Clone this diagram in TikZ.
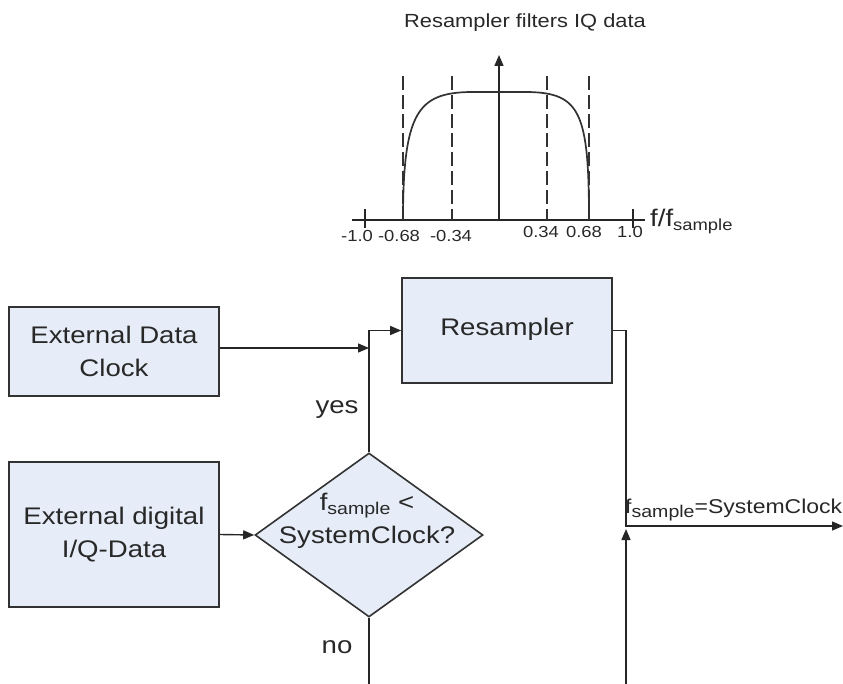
\documentclass[tikz,border=0pt]{standalone}
\usepackage{fontspec}
\setmainfont[FakeStretch=1.15]{Liberation Sans}
\usetikzlibrary{arrows.meta,shapes.geometric}
\definecolor{boxfill}{RGB}{230,237,248}
\definecolor{ink}{RGB}{50,50,50}
\definecolor{txt}{RGB}{40,40,40}
\newcommand{\fsmp}[1]{f\raisebox{-4pt}{\fontsize{#1}{#1}\selectfont sample}}
\begin{document}
\begin{tikzpicture}[x=1pt,y=-1pt,
  box/.style={draw=ink,line width=1.6pt,fill=boxfill,inner sep=0pt,text=txt,align=center,font=\fontsize{24}{33}\selectfont},
  diam/.style={diamond,draw=ink,line width=1.6pt,fill=boxfill,inner sep=0pt,minimum width=228pt,minimum height=164pt},
  lbl/.style={text=txt,inner sep=0pt,font=\fontsize{24}{33}\selectfont},
  conn/.style={draw=black!85,line width=1.4pt},
  arr/.style={conn,-{Triangle[length=11pt,width=9pt]}},
  ticklbl/.style={text=txt,inner sep=0pt,font=\fontsize{16}{16}\selectfont},
  dashline/.style={draw=ink,line width=1.4pt,dash pattern=on 14pt off 5pt},
  ]
\useasboundingbox (0,0) rectangle (843,684);

% ---- filter plot ----
\node[text=txt,inner sep=0pt,font=\fontsize{19}{19}\selectfont] (title) at (525,23) {Resampler filters IQ data};
\coordinate (xa) at (352,220);
\coordinate (xb) at (645,220);
\coordinate (yb) at (499,220);
\coordinate (yt) at (499,55);
\draw[conn] (xa) -- (xb);
\draw[arr] (yb) -- (yt);
\draw[conn] (365,209) -- (365,228);
\draw[conn] (633,209) -- (633,228);
\foreach \x in {403,452,547,589} \draw[dashline] (\x,76) -- (\x,220);
\draw[ink,line width=1.7pt] (403,220) .. controls (403,112) and (418,93) .. (470,92) -- (528,92) .. controls (580,93) and (589,112) .. (589,220);
\node[ticklbl] (t1) at (357,236) {-1.0};
\node[ticklbl] (t2) at (399,236) {-0.68};
\node[ticklbl] (t3) at (451,236) {-0.34};
\node[ticklbl] (t4) at (541,232) {0.34};
\node[ticklbl] (t5) at (584,232) {0.68};
\node[ticklbl] (t6) at (630,232) {1.0};
\node[lbl,anchor=base west] (fl) at (650,227) {f/\fsmp{16}};

% ---- flow chart ----
\node[box,minimum width=210pt,minimum height=89pt] (edc) at (114,351.5) {External Data\\Clock};
\node[box,minimum width=210pt,minimum height=145pt] (iq) at (114,534.5) {External digital\\I/Q-Data};
\node[box,minimum width=210pt,minimum height=105pt] (res) at (507,330.5) {\raisebox{8pt}{Resampler}};
\node[diam] (dec) at (369,535) {};
\node[lbl,align=center] (dectxt) at (367,521) {\fsmp{17}\ {<}\\SystemClock?};

\coordinate (join) at (369,348);
\coordinate (noend) at (369,684);
\coordinate (c1) at (626,526);
\coordinate (out) at (843,526);
\coordinate (inb) at (626,684);
\coordinate (inj) at (626,529);

\draw[arr] (edc.east |- join) -- (join);
\draw[arr] (dec.north) |- (res.west);
\draw[arr] (iq.east) -- (dec.west);
\draw[conn] (dec.south) -- (noend);
\draw[arr] (res.east) -| (c1) -- (out);
\draw[arr] (inb) -- (inj);

\node[lbl] (yes) at (337,410) {yes};
\node[lbl] (no) at (337,647) {no};
\node[lbl,anchor=base west,font=\fontsize{20}{20}\selectfont] (rate) at (625,513) {\fsmp{17}=SystemClock};
\end{tikzpicture}
\end{document}
